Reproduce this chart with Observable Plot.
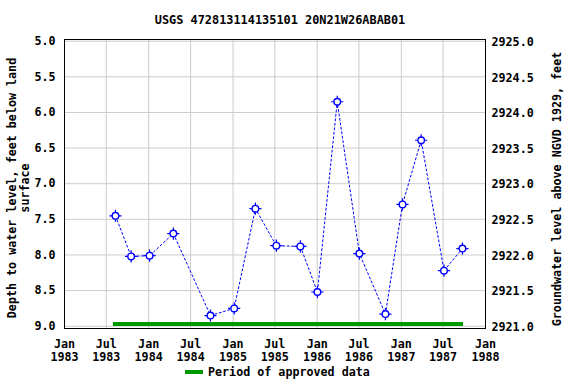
<!DOCTYPE html>
<html>
<head>
<meta charset="utf-8">
<script src="https://cdn.jsdelivr.net/npm/d3@7"></script>
<script src="https://cdn.jsdelivr.net/npm/@observablehq/plot@0.6"></script>
<style>
  html, body { margin: 0; padding: 0; background: #fff; }
  #chart { width: 576px; height: 384px; }
</style>
</head>
<body>
<div id="chart"></div>
<script>
const title = "USGS 472813114135101 20N21W26ABAB01";
const leftLabel = ["Depth to water level, feet below land", "surface"];
const rightLabel = "Groundwater level above NGVD 1929, feet";
const legendLabel = "Period of approved data";

const dates = ["1983-08-10","1983-10-17","1984-01-05","1984-04-17","1984-09-25","1985-01-06","1985-04-08","1985-07-08","1985-10-20","1986-01-02","1986-03-29","1986-07-03","1986-10-24","1987-01-06","1987-03-28","1987-07-05","1987-09-23"];
const depths = [7.45,8.02,8.01,7.70,8.85,8.75,7.35,7.87,7.88,8.52,5.85,7.98,8.83,7.29,6.39,8.22,7.91];
const approvedStart = ["1983-08-01"];
const approvedEnd = ["1987-09-28"];
const yTicks = [5.0,5.5,6.0,6.5,7.0,7.5,8.0,8.5,9.0];
const landDatum = 2930.0;

const data = dates.map((d, i) => ({date: new Date(d + "T00:00:00Z"), depth: depths[i]}));
const approved = approvedStart.map((s, i) => ({start: new Date(s + "T00:00:00Z"), end: new Date(approvedEnd[i] + "T00:00:00Z"), depth: 8.97}));
const xTicks = d3.utcMonth.every(6).range(new Date("1983-01-01T00:00:00Z"), new Date("1988-01-02T00:00:00Z"));

const FONT = "DejaVu Sans Mono";
const FS = "11.7px";
const monthName = d => d.getUTCMonth() === 0 ? "Jan" : "Jul";

const chart = Plot.plot({
  width: 576,
  height: 384,
  marginTop: 39,
  marginBottom: 56,
  marginLeft: 64,
  marginRight: 91,
  style: {fontFamily: FONT, fontWeight: "bold", fontSize: FS, background: "#fff", color: "#000"},
  x: {type: "utc", domain: [new Date("1983-01-01T00:00:00Z"), new Date("1988-01-01T00:00:00Z")]},
  y: {domain: [4.976, 9.032], reverse: true},
  marks: [
    Plot.gridX(xTicks, {stroke: "#cccccc", strokeOpacity: 1, strokeWidth: 1}),
    Plot.gridY(yTicks, {stroke: "#cccccc", strokeOpacity: 1, strokeWidth: 1}),
    Plot.axisY(yTicks, {anchor: "left", tickSize: 0, tickPadding: 9, tickFormat: d => d.toFixed(1), label: null, fontSize: FS}),
    Plot.axisY(yTicks, {anchor: "right", tickSize: 0, tickPadding: 6, tickFormat: d => (landDatum - d).toFixed(1), label: null, dy: 1, fontSize: FS}),
    Plot.axisX(xTicks, {anchor: "bottom", tickSize: 0, tickPadding: 10, tickFormat: d => monthName(d) + "\n" + d.getUTCFullYear(), label: null, lineHeight: 1.1, fontSize: FS}),
    Plot.ruleY(approved, {x1: "start", x2: "end", y: "depth", stroke: "#009900", strokeWidth: 4}),
    Plot.line(data, {x: "date", y: "depth", stroke: "#0000ff", strokeWidth: 1, strokeDasharray: "2,2.5"}),
    Plot.dot(data, {x: "date", y: "depth", symbol: "plus", r: 4, stroke: "#0000ff", strokeWidth: 1.2}),
    Plot.dot(data, {x: "date", y: "depth", r: 3.3, stroke: "#0000ff", fill: "#ffffff", strokeWidth: 1.4}),
    Plot.frame({stroke: "#000", strokeWidth: 1})
  ]
});

const svg = d3.select(chart);
const addText = (x, y, txt, opts = {}) => {
  const t = svg.append("text")
    .attr("x", x).attr("y", y)
    .attr("text-anchor", opts.anchor || "middle")
    .attr("dominant-baseline", "central")
    .attr("font-family", FONT)
    .attr("font-weight", "bold")
    .attr("font-size", opts.size || FS)
    .attr("fill", "#000")
    .text(txt);
  if (opts.rotate) t.attr("transform", `rotate(${opts.rotate},${x},${y})`);
  return t;
};
addText(280, 20, title, {size: "11.9px"});
addText(12, 188, leftLabel[0], {rotate: -90});
addText(25, 188, leftLabel[1], {rotate: -90});
addText(557, 189, rightLabel, {rotate: -90});
svg.append("line").attr("x1", 185).attr("x2", 203).attr("y1", 372).attr("y2", 372)
  .attr("stroke", "#009900").attr("stroke-width", 4);
addText(208, 372, legendLabel, {anchor: "start"});

document.getElementById("chart").appendChild(chart);
</script>
</body>
</html>
